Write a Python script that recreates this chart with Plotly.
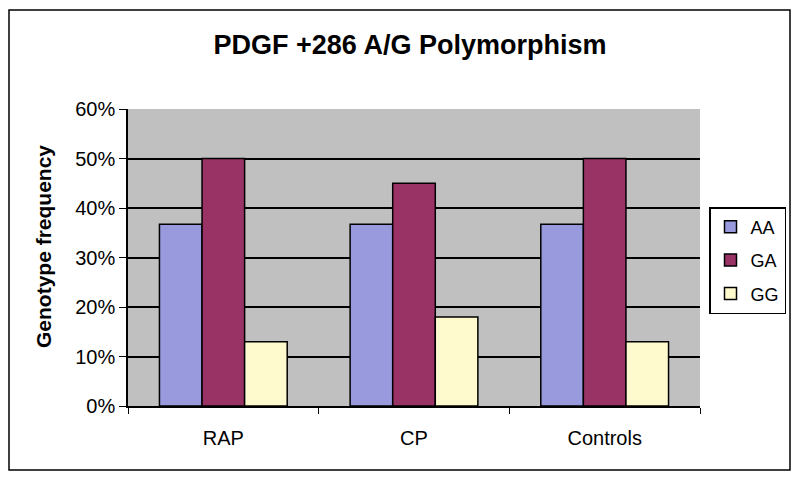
import plotly.graph_objects as go

categories = ["RAP", "CP", "Controls"]
series_names = ["AA", "GA", "GG"]
aa_values = [0.367, 0.367, 0.367]
ga_values = [0.50, 0.45, 0.50]
gg_values = [0.13, 0.18, 0.13]
colors = ["#9999DD", "#993366", "#FFFACD"]
y_ticks = [0, 0.1, 0.2, 0.3, 0.4, 0.5, 0.6]
y_tick_labels = ["0%", "10%", "20%", "30%", "40%", "50%", "60%"]

fig = go.Figure()
for name, vals, col in zip(series_names, [aa_values, ga_values, gg_values], colors):
    fig.add_trace(go.Bar(
        x=categories, y=vals, name=name, legendgroup=name,
        marker=dict(color=col, line=dict(color="black", width=1.5)),
    ))

L, R, T, B = 128, 100, 109, 80
W, H = 800, 486
pw, ph = W - L - R, H - T - B

def px_x(x):
    return (x - L) / pw

def px_y(y):
    return (H - B - y) / ph

fig.update_layout(
    width=W, height=H,
    margin=dict(l=L, r=R, t=T, b=B, autoexpand=False),
    paper_bgcolor="white",
    plot_bgcolor="#C0C0C0",
    barmode="group",
    bargap=0.33,
    bargroupgap=0,
    font=dict(family="Liberation Sans, Arial, sans-serif", color="black", size=20),
    title=dict(text="<b>PDGF +286 A/G Polymorphism</b>", x=410 / W, xanchor="center",
               y=1 - 45 / H, yanchor="middle", font=dict(size=27)),
    legend=dict(x=px_x(709), y=px_y(207), xanchor="left", yanchor="top",
                bordercolor="black", borderwidth=1.5, bgcolor="white",
                font=dict(size=18), tracegroupgap=7, traceorder="grouped",
                itemwidth=30),
    xaxis=dict(showline=True, linecolor="black", linewidth=1.5, automargin=False,
               ticks="outside", tickson="boundaries", ticklen=6, tickcolor="black",
               showgrid=False, tickfont=dict(size=20), ticklabelstandoff=13),
    yaxis=dict(range=[0, 0.6], tickvals=y_ticks, ticktext=y_tick_labels, automargin=False,
               showline=True, linecolor="black", linewidth=1.5,
               ticks="outside", ticklen=7, tickcolor="black",
               showgrid=True, gridcolor="black", gridwidth=1.5,
               zeroline=False, tickfont=dict(size=20)),
    annotations=[
        dict(text="<b>Genotype frequency</b>", xref="paper", yref="paper",
             x=px_x(43), y=px_y(247), xanchor="center", yanchor="middle",
             textangle=-90, showarrow=False, font=dict(size=21)),
    ],
    shapes=[
        dict(type="rect", xref="paper", yref="paper",
             x0=px_x(9), x1=px_x(790), y0=px_y(470), y1=px_y(10),
             line=dict(color="black", width=1.5), fillcolor="rgba(0,0,0,0)", layer="below"),
    ],
)

fig.write_html("out.html", config={"displayModeBar": False},
               post_script="document.body.style.margin='0';document.body.style.overflow='hidden';")
